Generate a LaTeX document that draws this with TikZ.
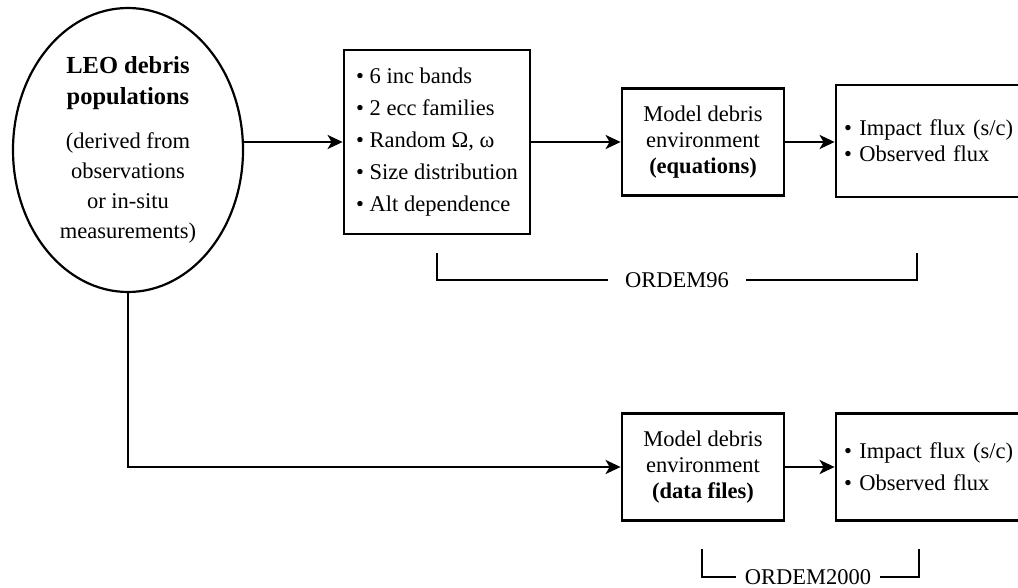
\documentclass[tikz,border=0pt]{standalone}
\usepackage{fontspec}
\setmainfont{Liberation Serif}
\usetikzlibrary{arrows.meta,shapes.geometric}

\tikzset{
  box/.style={draw,line width=2.8pt,inner sep=0pt,align=center},
  arr/.style={line width=2.3pt,-{Stealth[length=15pt,width=14pt,inset=4pt]}},
  brk/.style={line width=2.6pt},
  lbl/.style={font=\fontsize{22.5}{26}\selectfont}
}
\newcommand{\bigbf}[1]{\textbf{\fontsize{24.5}{33}\selectfont #1}}

\begin{document}
\begin{tikzpicture}[x=1pt,y=-1pt]
        \clip (0,0) rectangle (1018,588);
        %poblaciones de basura orbital
        \node[draw,ellipse,line width=2.2pt,minimum width=230pt,minimum height=284pt,align=center,inner sep=0pt,
          font=\fontsize{22.5}{30}\selectfont] (leo) at (128,150)
          {\bigbf{LEO debris}\\[1pt] \bigbf{populations}\\[14pt]
          (derived from\\ observations\\ or in-situ\\ measurements)};

        %caja de parametros
        \node[box,minimum width=186pt,minimum height=184pt,align=left,font=\fontsize{22.5}{32}\selectfont] (incbox) at (437,142)
          {\textbullet{} 6 inc bands\\ \textbullet{} 2 ecc families\\
          \textbullet{} Random Ω, ω\\ \textbullet{} Size distribution\\ \textbullet{} Alt dependence};

        %modelos
        \node[box,lbl,minimum width=162pt,minimum height=107pt] (eqbox) at (703,142)
          {Model debris\\ environment\\ \textbf{(equations)}};
        \node[box,lbl,text width=176pt,align=left,inner xsep=8pt,minimum height=112pt] (fluxa) at (932,141)
          {\textbullet{} Impact flux (s/c)\\ \textbullet{} Observed flux};

        \node[box,lbl,minimum width=162pt,minimum height=107pt] (databox) at (703,467)
          {Model debris\\ environment\\ \textbf{(data files)}};
        \node[box,text width=176pt,align=left,inner xsep=8pt,minimum height=107pt,
          font=\fontsize{22.5}{32}\selectfont] (fluxb) at (932,467)
          {\textbullet{} Impact flux (s/c)\\ \textbullet{} Observed flux};

        %flechas
        \draw[arr] (leo.east |- incbox.west) -- (incbox.west);
        \draw[arr] (incbox.east |- eqbox.west) -- (eqbox.west);
        \draw[arr] (eqbox.east) -- (fluxa.west |- eqbox.east);
        \draw[arr] (leo.south) -- (leo.south |- databox.west) -- (databox.west);
        \draw[arr] (databox.east) -- (fluxb.west |- databox.east);

        %llaves de los modelos
        \node[lbl,inner xsep=17pt] (o96) at (677,280) {ORDEM96};
        \coordinate (o96l) at (437,253);
        \coordinate (o96r) at (917,253);
        \draw[brk] (o96l) |- (o96.west);
        \draw[brk] (o96r) |- (o96.east);

        \node[lbl,inner xsep=9pt] (o2k) at (808,577) {ORDEM2000};
        \coordinate (o2kl) at (702,549);
        \coordinate (o2kr) at (919,549);
        \draw[brk] (o2kl) |- (o2k.west);
        \draw[brk] (o2kr) |- (o2k.east);
\end{tikzpicture}
\end{document}
